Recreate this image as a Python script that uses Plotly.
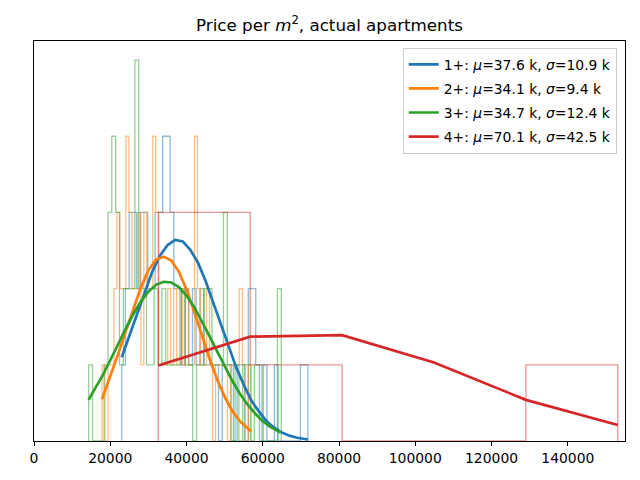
import numpy as np
import plotly.graph_objects as go

# ---------------- data ----------------
# histogram counts per equal-width bin, with first / last bin edge
blue_lo, blue_hi = 23000, 71830
blue_counts = [1, 2, 3, 3, 2, 3, 3, 2, 2, 3, 3, 4, 4, 3, 2, 2, 1, 2, 1, 2,
               1, 2, 1, 1, 1, 1, 0, 1, 1, 1, 0, 1, 1, 0, 2, 2, 1, 0, 1, 0,
               0, 1, 0, 0, 0, 0, 0, 0, 1, 1]

orange_lo, orange_hi = 17830, 57000
orange_counts = [1, 0, 1, 1, 2, 3, 2, 2, 4, 3, 2, 2, 3, 1, 3, 2, 2, 4, 3, 1,
                 1, 1, 2, 1, 2, 1, 2, 1, 2, 1, 1, 4, 2, 1, 1, 2, 1, 0, 1, 1,
                 1, 1, 0, 1, 1, 1, 2, 1, 0, 1]

green_lo, green_hi = 14340, 64850
green_counts = [1, 0, 0, 0, 1, 3, 4, 3, 1, 2, 2, 2, 5, 2, 2, 1, 1, 2, 1, 2,
                1, 1, 1, 1, 2, 1, 1, 0, 1, 1, 2, 2, 1, 1, 1, 3, 1, 0, 1, 0,
                1, 1, 0, 1, 1, 0, 0, 0, 0, 2]

red_lo, red_hi = 32600, 153100
red_counts = [3, 1, 0, 0, 1]

# fitted normal curves (scaled to counts)
blue_curve_x = [23000, 25000, 27000, 29000, 31000, 33000, 35000, 37000, 39000,
                41000, 43000, 45000, 47000, 49000, 51000, 53000, 55000, 57000,
                59000, 61000, 63000, 65000, 67000, 69000, 71830]
blue_curve_y = [1.10, 1.38, 1.67, 1.95, 2.22, 2.43, 2.57, 2.64, 2.62,
                2.51, 2.34, 2.10, 1.82, 1.53, 1.24, 0.97, 0.74, 0.53,
                0.385, 0.26, 0.175, 0.11, 0.07, 0.042, 0.02]

orange_curve_x = [17830, 20000, 22000, 24000, 26000, 28000, 30000, 32000, 34000,
                  36000, 38000, 40000, 42000, 44000, 46000, 48000, 50000, 52000,
                  54000, 56990]
orange_curve_y = [0.55, 0.84, 1.13, 1.43, 1.73, 2.01, 2.24, 2.38, 2.42,
                  2.37, 2.22, 1.99, 1.70, 1.39, 1.09, 0.81, 0.58, 0.395,
                  0.26, 0.125]

green_curve_x = [14300, 16000, 18000, 20000, 22000, 24000, 26000, 28000, 30000,
                 32000, 34000, 36000, 38000, 40000, 42000, 44000, 46000, 48000,
                 50000, 52000, 54000, 56000, 58000, 60000, 62000, 64700]
green_curve_y = [0.54, 0.68, 0.86, 1.06, 1.27, 1.47, 1.66, 1.83, 1.96,
                 2.05, 2.09, 2.08, 2.02, 1.91, 1.76, 1.58, 1.38, 1.18,
                 0.98, 0.79, 0.62, 0.48, 0.36, 0.26, 0.185, 0.11]

red_curve_x = [32600, 56700, 80800, 104900, 129000, 153100]
red_curve_y = [0.99, 1.37, 1.39, 1.03, 0.54, 0.21]

labels = ["1+: <i>μ</i>=37.6 k, <i>σ</i>=10.9 k",
          "2+: <i>μ</i>=34.1 k, <i>σ</i>=9.4 k",
          "3+: <i>μ</i>=34.7 k, <i>σ</i>=12.4 k",
          "4+: <i>μ</i>=70.1 k, <i>σ</i>=42.5 k"]

x_ticks = [0, 20000, 40000, 60000, 80000, 100000, 120000, 140000]

colors = ["#1f77b4", "#ff7f0e", "#2ca02c", "#d62728"]
faded = ["rgba(31,119,180,0.5)", "rgba(255,127,14,0.5)",
         "rgba(44,160,44,0.5)", "rgba(214,39,40,0.5)"]

# ---------------- figure ----------------
fig = go.Figure()

hists = [(blue_lo, blue_hi, blue_counts), (orange_lo, orange_hi, orange_counts),
         (green_lo, green_hi, green_counts), (red_lo, red_hi, red_counts)]
for (lo, hi, counts), col in zip(hists, faded):
    edges = np.linspace(lo, hi, len(counts) + 1)
    xs = [edges[0]] + list(edges)
    ys = [0] + list(counts) + [0]
    fig.add_trace(go.Scatter(x=xs, y=ys, mode="lines", line=dict(color=col, width=1.3, shape="hv"),
                             showlegend=False, hoverinfo="skip"))

curves = [(blue_curve_x, blue_curve_y), (orange_curve_x, orange_curve_y),
          (green_curve_x, green_curve_y), (red_curve_x, red_curve_y)]
for i, ((cx, cy), col, lab) in enumerate(zip(curves, colors, labels)):
    fig.add_trace(go.Scatter(x=cx, y=cy, mode="lines", name=lab,
                             line=dict(color=col, width=2.7),
                             legendgroup=f"g{i}"))

font = "DejaVu Sans, Verdana, sans-serif"
fig.update_layout(
    width=640, height=480,
    margin=dict(l=34, r=15, t=41, b=39),
    paper_bgcolor="white", plot_bgcolor="white",
    font=dict(family=font, size=13.9, color="black"),
    title=dict(text="Price per <i>m</i><sup>2</sup>, actual apartments",
               x=0.5, xref="paper", xanchor="center",
               y=1 - 25 / 480, yref="container", yanchor="middle",
               font=dict(family=font, size=16.7, color="black")),
    legend=dict(x=0.986, y=0.983, xanchor="right", yanchor="top",
                bgcolor="rgba(255,255,255,0.8)", bordercolor="#cccccc", borderwidth=1,
                font=dict(family=font, size=13.9, color="black"),
                tracegroupgap=3),
    showlegend=True,
)
fig.update_xaxes(range=[0, 155000], tickvals=x_ticks, ticktext=[str(t) for t in x_ticks],
                 showgrid=False, zeroline=False, showline=True, mirror=True,
                 linecolor="black", linewidth=1, ticks="outside", ticklen=4,
                 tickcolor="black", layer="above traces",
                 tickfont=dict(family=font, size=13.9, color="black"))
fig.update_yaxes(range=[0, 5.25], showgrid=False, zeroline=False, showline=True, mirror=True,
                 linecolor="black", linewidth=1, showticklabels=False, ticks="",
                 layer="above traces")

fig.write_html("out.html", config={"displayModeBar": False},
               post_script="document.body.style.margin='0';")
